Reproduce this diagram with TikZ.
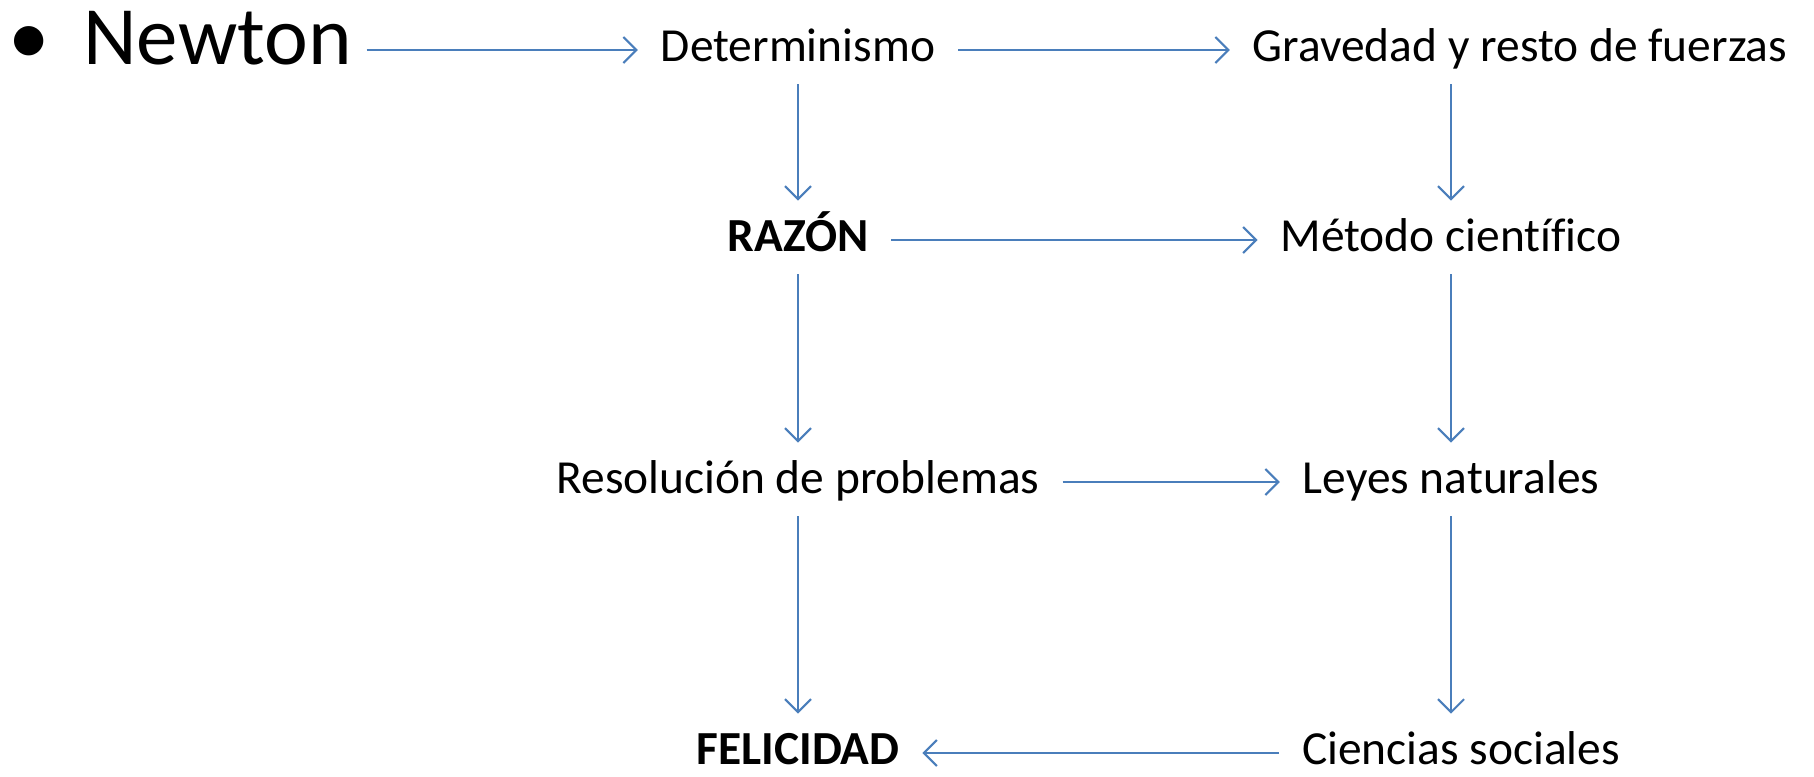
\documentclass[tikz,border=0pt]{standalone}
\usepackage{fontspec}
\setmainfont[Ligatures=NoCommon]{Carlito}
\usetikzlibrary{arrows.meta}
\definecolor{arrowblue}{HTML}{4A7EBB}

\begin{document}
\begin{tikzpicture}[node distance=6.5cm, auto,
    concept/.style={inner sep=0pt, outer sep=0.23cm, text height=0.644em, text depth=0pt, font=\fontsize{13.5}{16}\selectfont},
    link/.style={draw=arrowblue, line width=0.6pt, -{Straight Barb[length=1.3mm, width=2.6mm]}}]
    \useasboundingbox (0,0) rectangle (18.14,-7.76);

    \node (newton) at (-0.06,-0.64) [anchor=base west, inner sep=0pt, outer sep=0.15cm, font=\fontsize{23.6}{28}\selectfont] {\textbullet\hspace{0.4em}Newton};
    \node (det) at (7.98,-0.50) [concept] {Determinismo};
    \node (grav) [concept, right of=det, node distance=7.22cm] {Gravedad y resto de fuerzas};
    \node (razon) [concept, below of=det, node distance=1.9cm] {\textbf{RAZÓN}};
    \node (metodo) [concept, right of=razon, node distance=6.53cm] {Método científico};
    \node (resol) [concept, below of=razon, node distance=2.42cm] {Resolución de problemas};
    \node (leyes) [concept, right of=resol, node distance=6.53cm] {Leyes naturales};
    \node (felic) [concept, below of=resol, node distance=2.71cm] {\textbf{FELICIDAD}};
    \node (ciencias) [concept, right of=felic, node distance=6.63cm] {Ciencias sociales};

    \draw[link] (newton.east |- det) -- (det);
    \draw[link] (det) -- (grav);
    \draw[link, shorten >=0.05cm] (det) -- (razon);
    \draw[link, shorten >=0.05cm] (grav.south -| metodo) -- (metodo);
    \draw[link] (razon) -- (metodo);
    \draw[link, shorten >=0.05cm] (razon) -- (resol);
    \draw[link, shorten >=0.05cm] (metodo) -- (leyes);
    \draw[link] (resol) -- (leyes);
    \draw[link, shorten >=0.05cm] (resol) -- (felic);
    \draw[link, shorten >=0.05cm] (leyes) -- (ciencias.north -| leyes);
    \draw[link] (ciencias) -- (felic);
\end{tikzpicture}
\end{document}
